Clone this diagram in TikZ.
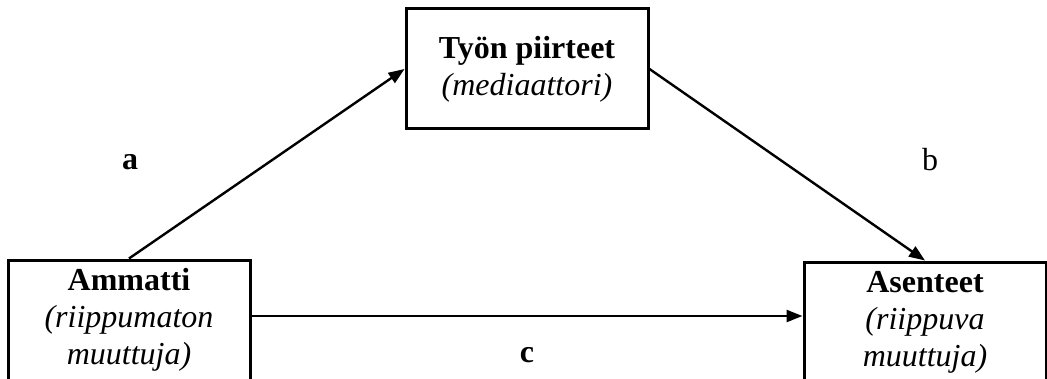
\documentclass[tikz,border=0pt]{standalone}
\usepackage{fontspec}
\setmainfont{Liberation Serif}
\usetikzlibrary{arrows.meta}

\begin{document}
\begin{tikzpicture}[x=0.5pt,y=-0.5pt,
  box/.style={draw,line width=1.5pt,minimum width=121pt,minimum height=60pt,
    align=center,inner sep=0pt,font=\fontsize{16}{18.5}\selectfont},
  path/.style={line width=1.2pt,-{Triangle[length=8pt,width=6pt]}},
  lbl/.style={font=\fontsize{16}{18.5}\selectfont}]
\useasboundingbox (0,0) rectangle (1047,379);
% the three variables of the mediation model
\node[box] (ammatti)  at (129,320) {\textbf{Ammatti}\\\textit{(riippumaton}\\\textit{muuttuja)}};
\node[box] (tyon)     at (527,69)  {\textbf{Työn piirteet}\\\textit{(mediaattori)}};
\node[box] (asenteet) at (925,322) {\textbf{Asenteet}\\\textit{(riippuva}\\\textit{muuttuja)}};
% paths a, b and c
\draw[path] (ammatti.north) -- (tyon.west);
\draw[path] (tyon.east) -- (asenteet.north);
\draw[path] ([yshift=2pt]ammatti.east) -- ([yshift=2pt]ammatti.east -| asenteet.west);
\node[lbl] (pa) at (130,162) {\textbf{a}};
\node[lbl] (pb) at (930,160) {b};
\node[lbl] (pc) at (527,355) {\textbf{c}};
\end{tikzpicture}
\end{document}
